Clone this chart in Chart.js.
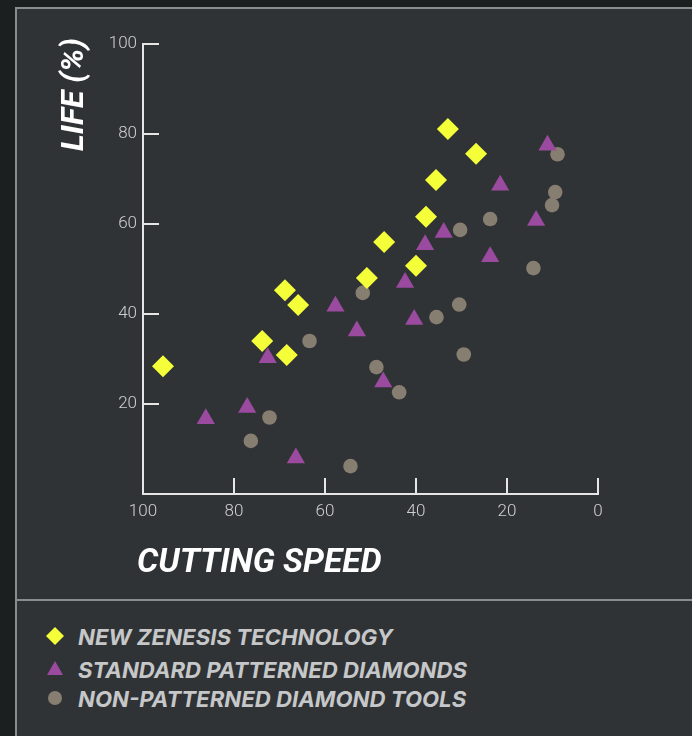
<!DOCTYPE html>
<html>
<head>
<meta charset="utf-8">
<script src="https://cdn.jsdelivr.net/npm/chart.js@4.4.0/dist/chart.umd.min.js"></script>
<style>
    html, body { margin: 0; padding: 0; width: 692px; height: 736px; overflow: hidden; background: #1c1f20; }
    #panel { position: absolute; left: 15px; top: 7px; width: 720px; height: 760px; background: #303335;
             border-left: 2px solid #8a8c8e; border-top: 2px solid #8a8c8e; }
    #divider { position: absolute; left: 17px; top: 599px; width: 680px; height: 2px; background: #8a8c8e; }
    #chart-box { position: absolute; left: 17px; top: 10px; width: 675px; height: 589px; }
    #legend { position: absolute; left: 40px; top: 620px; }
    .legend-row { position: absolute; left: 0; height: 30px; white-space: nowrap; display: flex; align-items: center; }
    .legend-row svg { width: 30px; height: 30px; flex: none; }
    .legend-row span { margin-left: 8px; font: italic 700 22.2px Inter, Roboto, sans-serif; color: #c6c7c9; }
</style>
</head>
<body>
<div id="panel"></div>
<div id="divider"></div>
<div id="chart-box"><canvas id="lifeChart" width="675" height="589"></canvas></div>
<div id="legend"></div>
<script>
// series names as shown in the legend
const seriesNames = ['NEW ZENESIS TECHNOLOGY', 'STANDARD PATTERNED DIAMONDS', 'NON-PATTERNED DIAMOND TOOLS'];

// cutting speed (x) / life % (y)
const zenesisSpeed = [95.6, 73.8, 68.4, 68.8, 65.9, 50.8, 47.0, 40.0, 37.8, 35.6, 33.0, 26.8];
const zenesisLife  = [28.4, 34.0, 30.9, 45.3, 42.0, 48.0, 56.0, 50.7, 61.6, 69.8, 81.1, 75.6];

const standardSpeed = [86.2, 77.1, 66.4, 47.2, 72.6, 57.7, 53.0, 42.4, 40.4, 38.0, 33.9, 23.7, 21.5, 13.6, 11.1];
const standardLife  = [16.7, 19.2, 8.0, 24.9, 30.3, 41.7, 36.2, 47.0, 38.8, 55.4, 58.1, 52.7, 68.6, 60.8, 77.5];

const nonPatSpeed = [76.3, 72.2, 54.4, 43.7, 48.7, 63.4, 51.7, 35.5, 30.5, 29.5, 30.3, 23.7, 14.2, 10.1, 9.4, 8.9];
const nonPatLife  = [11.8, 17.0, 6.2, 22.6, 28.2, 34.0, 44.7, 39.3, 42.1, 31.0, 58.7, 61.1, 50.2, 64.2, 67.1, 75.5];

const axisTicks = [0, 20, 40, 60, 80, 100];
const xTitle = 'CUTTING SPEED';
const yTitle = 'LIFE (%)';

const yellow = '#f4ff3a';
const purple = '#9a4a9f';
const taupe = '#877e72';
const axisColor = '#e6e6e6';

function toPoints(xs, ys) {
    return xs.map((x, i) => ({ x: x, y: ys[i] }));
}

// short tick marks drawn inside the plot, like the original
const innerTicks = {
    id: 'innerTicks',
    afterDraw(chart) {
        const { ctx, chartArea, scales } = chart;
        ctx.save();
        ctx.strokeStyle = axisColor;
        ctx.lineWidth = 2;
        ctx.beginPath();
        scales.y.ticks.forEach(t => {
            if (t.value === 0) return;
            const py = Math.round(scales.y.getPixelForValue(t.value));
            ctx.moveTo(chartArea.left, py);
            ctx.lineTo(chartArea.left + 16, py);
        });
        scales.x.ticks.forEach(t => {
            const px = Math.round(scales.x.getPixelForValue(t.value));
            ctx.moveTo(px, chartArea.bottom);
            ctx.lineTo(px, chartArea.bottom - 16);
        });
        ctx.stroke();
        ctx.restore();
    }
};

// axis titles: x is left aligned under a reversed axis (Chart.js would flip it),
// y reads upward and ends a little above the top tick
const axisTitles = {
    id: 'axisTitles',
    afterDraw(chart) {
        const { ctx, chartArea } = chart;
        ctx.save();
        ctx.fillStyle = '#ffffff';
        ctx.textBaseline = 'middle';
        ctx.font = 'italic 700 33.5px Roboto';
        ctx.textAlign = 'left';
        ctx.fillText(xTitle, chartArea.left - 6, chartArea.bottom + 70);

        ctx.font = 'italic 700 32px Roboto';
        ctx.translate(chartArea.left - 68, chartArea.top - 6);
        ctx.rotate(-Math.PI / 2);
        ctx.textAlign = 'right';
        ctx.fillText(yTitle, 0, 0);
        ctx.restore();
    }
};

const tickFont = { family: 'Roboto', weight: '300', size: 17 };

new Chart(document.getElementById('lifeChart'), {
    type: 'scatter',
    data: {
        datasets: [
            {
                label: seriesNames[0],
                data: toPoints(zenesisSpeed, zenesisLife),
                pointStyle: 'rectRot',
                pointRadius: 11,
                pointHoverRadius: 11,
                backgroundColor: yellow,
                borderWidth: 0
            },
            {
                label: seriesNames[1],
                data: toPoints(standardSpeed, standardLife),
                pointStyle: 'triangle',
                pointRadius: 10.5,
                pointHoverRadius: 10.5,
                backgroundColor: purple,
                borderWidth: 0
            },
            {
                label: seriesNames[2],
                data: toPoints(nonPatSpeed, nonPatLife),
                pointStyle: 'circle',
                pointRadius: 7.3,
                pointHoverRadius: 7.3,
                backgroundColor: taupe,
                borderWidth: 0
            }
        ]
    },
    options: {
        responsive: false,
        animation: false,
        layout: { padding: { top: 34, right: 94, left: 0, bottom: 0 } },
        plugins: {
            legend: { display: false },
            tooltip: { enabled: false }
        },
        scales: {
            x: {
                type: 'linear',
                reverse: true,
                min: 0,
                max: 100,
                afterBuildTicks: (scale) => { scale.ticks = axisTicks.map(v => ({ value: v })); },
                afterFit: (scale) => { scale.height = 105; },
                grid: { display: false, drawTicks: false },
                border: { display: true, color: axisColor, width: 2 },
                ticks: { color: '#cfd0d1', font: tickFont, padding: 8, maxRotation: 0 },
                title: { display: false }
            },
            y: {
                min: 0,
                max: 100,
                afterBuildTicks: (scale) => { scale.ticks = axisTicks.map(v => ({ value: v })); },
                afterFit: (scale) => { scale.width = 126; },
                grid: { display: false, drawTicks: false },
                border: { display: true, color: axisColor, width: 2 },
                ticks: {
                    color: '#cfd0d1',
                    font: tickFont,
                    padding: 6,
                    callback: (v) => v === 0 ? '' : v
                },
                title: { display: false }
            }
        }
    },
    plugins: [innerTicks, axisTitles]
});

// legend under the divider, same order as the datasets
const markerSvg = [
    '<svg viewBox="0 0 30 30"><polygon points="15,6 24,15 15,24 6,15" fill="' + yellow + '"/></svg>',
    '<svg viewBox="0 0 30 30"><polygon points="15,7 23,21 7,21" fill="' + purple + '"/></svg>',
    '<svg viewBox="0 0 30 30"><circle cx="15" cy="15" r="7" fill="' + taupe + '"/></svg>'
];
const legendTops = [1, 34, 63];
const legendEl = document.getElementById('legend');
seriesNames.forEach((name, i) => {
    const row = document.createElement('div');
    row.className = 'legend-row';
    row.style.top = legendTops[i] + 'px';
    row.innerHTML = markerSvg[i] + '<span>' + name + '</span>';
    legendEl.appendChild(row);
});
</script>
</body>
</html>
